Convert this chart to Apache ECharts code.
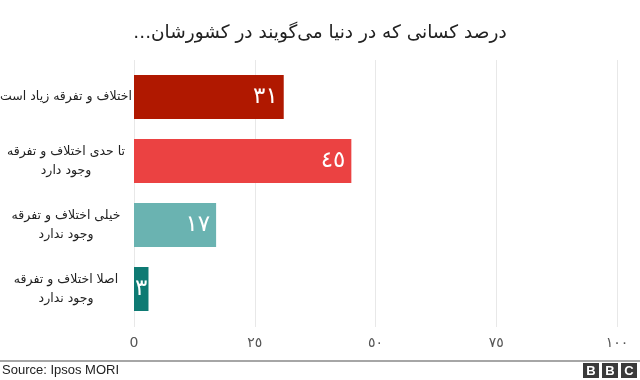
<!DOCTYPE html>
<html>
<head>
<meta charset="utf-8">
<script src="https://cdn.jsdelivr.net/npm/echarts@6/dist/echarts.min.js"></script>
<style>html,body{margin:0;padding:0;background:#fff}#c{width:640px;height:380px}</style>
</head>
<body>
<div id="c"></div>
<script>
var titleText = '...درصد کسانی که در دنیا می\u200cگویند در کشورشان';
var categories = [
  'اختلاف و تفرقه زیاد است',
  'تا حدی اختلاف و تفرقه\nوجود دارد',
  'خیلی اختلاف و تفرقه\nوجود ندارد',
  'اصلا اختلاف و تفرقه\nوجود ندارد'
];
var values = [31, 45, 17, 3];
var barColors = ['#b01800', '#eb4242', '#6ab3b1', '#0e7a73'];
var tickLabels = ['0', '٢٥', '٥٠', '٧٥', '١٠٠'];
var sourceText = 'Source: Ipsos MORI';

function toFa(n) {
  var d = '٠١٢٣٤٥٦٧٨٩';
  return String(n).replace(/[0-9]/g, function (c) { return d[+c]; });
}

var chart = echarts.init(document.getElementById('c'), null, {renderer: 'canvas'});
var fam = "'DejaVu Sans', 'Noto Sans', sans-serif";
chart.setOption({
  animation: false,
  backgroundColor: '#fff',
  title: {
    text: titleText,
    left: 'center',
    top: 19,
    textStyle: {fontFamily: fam, fontSize: 18.5, fontWeight: 'normal', color: '#222'}
  },
  grid: [
    {left: 134, right: 23, top: 65, bottom: 59, outerBoundsMode: 'none', containLabel: false},
    {left: 134, right: 23, top: 60, bottom: 53, outerBoundsMode: 'none', containLabel: false}
  ],
  xAxis: [
    {gridIndex: 0, type: 'value', min: 0, max: 100, interval: 25, show: false},
    {gridIndex: 1, type: 'value', min: 0, max: 100, interval: 25,
     axisLine: {show: false}, axisTick: {show: false},
     splitLine: {show: true, lineStyle: {color: '#e8e8e8', width: 1}},
     axisLabel: {margin: 9, fontFamily: fam, fontSize: 14, color: '#555',
       formatter: function (v) { return tickLabels[Math.round(v / 25)]; }}}
  ],
  yAxis: [
    {gridIndex: 0, type: 'category', data: categories, inverse: true,
     axisLine: {show: false}, axisTick: {show: false},
     axisLabel: {margin: 68, align: 'center', fontFamily: fam, fontSize: 12.5, color: '#222', lineHeight: 19}},
    {gridIndex: 1, type: 'value', show: false}
  ],
  series: [{
    type: 'bar',
    xAxisIndex: 0, yAxisIndex: 0,
    barWidth: 44,
    data: values.map(function (v, i) {
      var item = {value: v, itemStyle: {color: barColors[i]}};
      if (v < 5) item.label = {position: 'inside'};
      return item;
    }),
    label: {
      show: true, position: 'insideRight', distance: 6,
      color: '#fff', fontFamily: fam, fontSize: 23, fontWeight: 'normal',
      formatter: function (p) { return toFa(p.value); }
    }
  }],
  graphic: [
    {type: 'rect', left: 0, top: 360, shape: {width: 640, height: 2}, style: {fill: '#a6a6a6'}},
    {type: 'text', left: 2, top: 364, style: {text: sourceText, fontFamily: "'Liberation Sans', Arial, sans-serif", fontSize: 13, fill: '#222'}},
    {type: 'rect', left: 583, top: 363, shape: {width: 16, height: 15}, style: {fill: '#3a3a3a'}},
    {type: 'rect', left: 602, top: 363, shape: {width: 16, height: 15}, style: {fill: '#3a3a3a'}},
    {type: 'rect', left: 621, top: 363, shape: {width: 16, height: 15}, style: {fill: '#3a3a3a'}},
    {type: 'text', x: 591, y: 371, style: {text: 'B', fontFamily: "'Liberation Sans', Arial, sans-serif", fontSize: 13, fontWeight: 'bold', fill: '#fff', align: 'center', verticalAlign: 'middle'}},
    {type: 'text', x: 610, y: 371, style: {text: 'B', fontFamily: "'Liberation Sans', Arial, sans-serif", fontSize: 13, fontWeight: 'bold', fill: '#fff', align: 'center', verticalAlign: 'middle'}},
    {type: 'text', x: 629, y: 371, style: {text: 'C', fontFamily: "'Liberation Sans', Arial, sans-serif", fontSize: 13, fontWeight: 'bold', fill: '#fff', align: 'center', verticalAlign: 'middle'}}
  ]
});
</script>
</body>
</html>
